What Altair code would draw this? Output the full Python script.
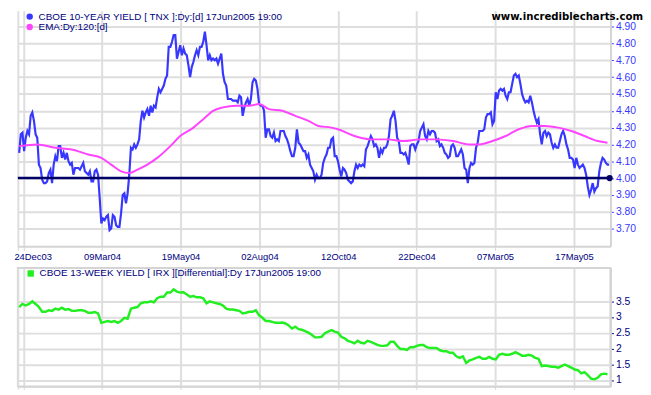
import altair as alt
import pandas as pd

# ---------------- data ----------------
# 10-year yield (TNX), one sample per trading-day step
tnx = [
    4.15, 4.26, 4.27, 4.16, 4.24, 4.28, 4.26, 4.37, 4.39, 4.34,
    4.26, 4.24, 4.08, 4.06, 3.99, 3.97, 3.97, 3.98, 4.03, 4.05,
    3.97, 4.08, 4.13, 4.10, 4.19, 4.19, 4.12, 4.15, 4.11, 4.15,
    4.10, 4.08, 4.09, 4.02, 4.06, 4.06, 4.06, 4.05, 4.07, 4.09,
    4.04, 4.03, 4.02, 4.04, 3.98, 3.98, 4.04, 4.05, 4.02, 3.88,
    3.73, 3.76, 3.75, 3.77, 3.78, 3.69, 3.70, 3.78, 3.77, 3.72,
    3.71, 3.71, 3.79, 3.90, 3.91, 3.85, 3.91, 4.02, 4.18, 4.17,
    4.20, 4.18, 4.20, 4.23, 4.34, 4.40, 4.36, 4.39, 4.41, 4.37,
    4.43, 4.39, 4.43, 4.42, 4.48, 4.53, 4.51, 4.53, 4.55, 4.59,
    4.61, 4.78, 4.78, 4.81, 4.85, 4.85, 4.71, 4.75, 4.79, 4.73,
    4.77, 4.74, 4.73, 4.67, 4.60, 4.66, 4.69, 4.73, 4.76, 4.73,
    4.78, 4.78, 4.81, 4.87, 4.79, 4.70, 4.73, 4.70, 4.71, 4.70,
    4.71, 4.68, 4.71, 4.74, 4.62, 4.57, 4.55, 4.47, 4.47, 4.47,
    4.46, 4.46, 4.46, 4.45, 4.49, 4.48, 4.37, 4.42, 4.45, 4.47,
    4.43, 4.47, 4.57, 4.59, 4.58, 4.53, 4.44, 4.43, 4.43, 4.40,
    4.24, 4.29, 4.29, 4.25, 4.24, 4.27, 4.22, 4.23, 4.22, 4.28,
    4.28, 4.28, 4.25, 4.23, 4.20, 4.16, 4.13, 4.13, 4.18, 4.29,
    4.21, 4.20, 4.18, 4.16, 4.16, 4.12, 4.14, 4.08, 4.06, 4.04,
    3.99, 4.02, 4.00, 4.00, 4.02, 4.09, 4.12, 4.14, 4.18, 4.18,
    4.23,
    4.24, 4.13, 4.13, 4.10, 4.05, 4.01, 4.06, 4.05, 4.03, 3.99,
    3.98, 3.97, 3.98, 4.04, 4.08, 4.06, 4.08, 4.07, 4.08, 4.07,
    4.17, 4.19, 4.22, 4.25, 4.23, 4.19, 4.20, 4.18, 4.12, 4.17,
    4.15, 4.18, 4.18, 4.20, 4.25, 4.35, 4.37, 4.40, 4.34, 4.24,
    4.22, 4.15, 4.15, 4.14, 4.15, 4.12, 4.08, 4.19, 4.20, 4.20,
    4.17, 4.20, 4.22, 4.28, 4.30, 4.32, 4.25, 4.23, 4.28, 4.26,
    4.28, 4.28, 4.27, 4.22, 4.23, 4.19, 4.20, 4.18, 4.15, 4.14,
    4.12, 4.13, 4.19, 4.20, 4.18, 4.13, 4.13, 4.15, 4.17, 4.14,
    4.06, 4.05, 3.97, 4.06, 4.09, 4.08, 4.09, 4.18, 4.21, 4.28,
    4.28, 4.28, 4.29, 4.36, 4.38, 4.38, 4.39, 4.32, 4.34, 4.51,
    4.47, 4.52, 4.53, 4.52, 4.53, 4.49, 4.47, 4.51, 4.51, 4.56,
    4.61, 4.62, 4.60, 4.61, 4.56, 4.50, 4.47, 4.45, 4.46, 4.45,
    4.49, 4.45, 4.40, 4.36, 4.33, 4.35, 4.26, 4.20, 4.27, 4.28,
    4.25, 4.27, 4.26, 4.21, 4.18, 4.20, 4.18, 4.18, 4.22, 4.26,
    4.28, 4.25, 4.20, 4.17, 4.12, 4.12, 4.11, 4.06, 4.12, 4.08,
    4.06, 4.07, 4.08, 4.06, 4.02, 3.95, 3.90, 3.93, 3.97, 3.92,
    3.94, 3.95, 4.04, 4.09, 4.12, 4.11, 4.09, 4.08, 4.08,
]

# 120-day EMA (sampled points along the pink curve)
ema_days = [0, 11, 22, 32, 42, 50, 56, 62, 67, 72, 78, 84, 92, 98, 106, 112,
            118, 124, 132, 140, 146, 152, 160, 168, 176, 182, 190, 194, 204,
            214, 224, 234, 244, 254, 264, 274, 280, 288, 296, 304, 312, 320,
            328, 336, 344, 352, 358]
ema_vals = [4.19, 4.20, 4.18, 4.17, 4.14, 4.12, 4.08, 4.04, 4.03, 4.05, 4.08,
            4.12, 4.19, 4.25, 4.30, 4.35, 4.40, 4.42, 4.43, 4.43, 4.44, 4.41,
            4.40, 4.37, 4.34, 4.31, 4.30, 4.29, 4.25, 4.23, 4.23, 4.22, 4.23,
            4.23, 4.22, 4.20, 4.20, 4.22, 4.25, 4.29, 4.31, 4.31, 4.30, 4.28,
            4.25, 4.22, 4.21]

# 13-week yield (IRX), one sample every two steps
irx = [
    3.31, 3.41, 3.36, 3.41, 3.49, 3.41, 3.31, 3.16, 3.16, 3.21,
    3.19, 3.26, 3.23, 3.29, 3.23, 3.25, 3.19, 3.19, 3.21, 3.21,
    3.19, 3.13, 3.13, 3.15, 3.11, 2.81, 2.84, 2.87, 2.84, 2.87,
    2.81, 2.87, 2.97, 2.94, 3.26, 3.29, 3.31, 3.43, 3.46, 3.46,
    3.49, 3.46, 3.59, 3.64, 3.64, 3.77, 3.77, 3.87, 3.80, 3.77,
    3.78, 3.71, 3.64, 3.66, 3.62, 3.62, 3.59, 3.43, 3.49, 3.46,
    3.43, 3.41, 3.36, 3.26, 3.23, 3.23, 3.21, 3.19, 3.11, 3.13,
    3.16, 3.16, 3.21, 3.05, 2.97, 2.87, 2.87, 2.84, 2.81, 2.81,
    2.82, 2.79, 2.73, 2.63, 2.69, 2.61, 2.59, 2.55, 2.50, 2.43,
    2.35, 2.35,
    2.37, 2.48, 2.53, 2.58, 2.53, 2.50, 2.37, 2.32, 2.24, 2.21,
    2.16, 2.24, 2.18, 2.16, 2.24, 2.21, 2.16, 2.11, 2.08, 2.08,
    2.10, 2.21, 2.21, 2.08, 1.98, 1.98, 1.95, 2.04, 2.04, 2.08,
    2.11, 2.11, 2.04, 2.01, 2.01, 2.01, 1.94, 1.91, 1.91, 1.86,
    1.86, 1.75, 1.70, 1.75, 1.54, 1.62, 1.65, 1.70, 1.73, 1.67,
    1.67, 1.73, 1.67, 1.65, 1.80, 1.83, 1.80, 1.80, 1.83, 1.88,
    1.83, 1.77, 1.77, 1.80, 1.77, 1.70, 1.67, 1.44, 1.46, 1.44,
    1.42, 1.42, 1.39, 1.44, 1.49, 1.44, 1.39, 1.33, 1.31, 1.21,
    1.25, 1.15, 1.04, 1.02, 1.07, 1.18, 1.20, 1.18,
]

tick_days = [2.8, 50.4, 98.2, 146.2, 194.2, 241.8, 289.6, 337.6]
tick_labels = ["24Dec03", "09Mar04", "19May04", "02Aug04", "12Oct04",
               "22Dec04", "07Mar05", "17May05"]
top_ticks = [3.7, 3.8, 3.9, 4.0, 4.1, 4.2, 4.3, 4.4, 4.5, 4.6, 4.7, 4.8, 4.9]
bottom_ticks = [1, 1.5, 2, 2.5, 3, 3.5]
level = [4.00]
level_start = [-0.8]
level_end = [359.3]

legend_top = ["CBOE 10-YEAR YIELD  [ TNX ]:Dy:[d]  17Jun2005 19:00",
              "EMA:Dy:120:[d]"]
legend_top_colors = ["#3737FF", "#FF44FF"]
legend_bottom = ["CBOE 13-WEEK YIELD [ IRX ][Differential]:Dy  17Jun2005 19:00"]
legend_bottom_colors = ["#22EE22"]
site = ["www.incrediblecharts.com"]

# ---------------- frames ----------------
tnx_df = pd.DataFrame({"day": list(range(len(tnx))), "value": tnx})
ema_df = pd.DataFrame({"day": ema_days, "value": ema_vals})
irx_df = pd.DataFrame({"day": [2 * i for i in range(len(irx))], "value": irx})
level_df = pd.DataFrame({"day": level_start, "day2": level_end, "value": level})

X_DOMAIN = [-0.8, 359.8]
W = 601
H_TOP = 239
H_BOT = 120
FONT = "Liberation Sans"
NAVY = "#000080"
GRID = "#DEDEDE"
BORDER = "#D4D4D4"
BLUE = "#3737FF"

expr = "''"
for d, lab in reversed(list(zip(tick_days, tick_labels))):
    expr = f"abs(datum.value - {d}) < 1 ? '{lab}' : ({expr})"

first_test = f"datum.value < {tick_days[0] + 1}"

x_top = alt.X(
    "day:Q",
    scale=alt.Scale(domain=X_DOMAIN, nice=False, zero=False),
    axis=alt.Axis(values=[X_DOMAIN[0]] + tick_days, tickCount=50, labelExpr=expr, title=None,
                  grid=True, gridColor=GRID, gridWidth=2,
                  domainColor=BORDER, domainWidth=2,
                  tickColor=BORDER, tickSize=4, tickWidth=1,
                  labelColor=NAVY, labelFont=FONT, labelFontSize=9.5,
                  labelPadding=1, labelFlush=False, labelOverlap=False,
                  labelAlign=alt.condition(first_test, alt.value("left"), alt.value("center")),
                  labelOffset=alt.condition(first_test, alt.value(-10), alt.value(0))),
)
y_top = alt.Y(
    "value:Q",
    scale=alt.Scale(domain=[3.594, 4.995], nice=False, zero=False),
    axis=alt.Axis(orient="right", values=top_ticks, tickCount=50, format=".2f", title=None,
                  grid=True, gridColor=GRID, gridWidth=2,
                  domainColor=BORDER, domainWidth=2,
                  tickColor=BLUE, tickSize=3, labelOverlap=False,
                  labelColor=BLUE, labelFont=FONT, labelFontSize=10.5,
                  labelPadding=2),
)

tnx_line = alt.Chart(tnx_df).mark_line(color=BLUE, strokeWidth=2.2).encode(x=x_top, y=y_top)
ema_line = alt.Chart(ema_df).mark_line(color="#FF44FF", strokeWidth=2, interpolate="monotone").encode(
    x="day:Q", y="value:Q")
lvl_rule = alt.Chart(level_df).mark_rule(color="#000066", strokeWidth=2.5).encode(
    x="day:Q", x2="day2:Q", y="value:Q")
lvl_dot = alt.Chart(level_df).mark_point(filled=True, shape="circle", size=40,
                                         color="#000066", opacity=1).encode(
    x="day2:Q", y="value:Q")

leg_top_layers = []
for i, (lab, col) in enumerate(zip(legend_top, legend_top_colors)):
    df = pd.DataFrame({"label": [lab]})
    yy = 6 + i * 10.5
    leg_top_layers.append(
        alt.Chart(df).mark_point(filled=True, shape="circle", size=42, color=col, opacity=1)
        .encode(x=alt.value(12), y=alt.value(yy)))
    leg_top_layers.append(
        alt.Chart(df).mark_text(align="left", baseline="middle", font=FONT, fontSize=10,
                                color=NAVY)
        .encode(text="label:N", x=alt.value(21), y=alt.value(yy)))

site_text = alt.Chart(pd.DataFrame({"label": site})).mark_text(
    align="right", baseline="middle", font="DejaVu Sans", fontSize=10.3,
    fontWeight="bold", color="black").encode(
    text="label:N", x=alt.value(634), y=alt.value(6))

top = alt.layer(tnx_line, ema_line, lvl_rule, lvl_dot, *leg_top_layers, site_text).properties(
    width=W, height=H_TOP)

# ---------------- bottom panel ----------------
x_bot = alt.X(
    "day:Q",
    scale=alt.Scale(domain=X_DOMAIN, nice=False, zero=False),
    axis=alt.Axis(values=[X_DOMAIN[0]] + tick_days, tickCount=50, labels=False, title=None,
                  grid=True, gridColor=GRID, gridWidth=2,
                  domainColor=BORDER, domainWidth=2,
                  tickColor=BORDER, tickSize=3),
)
y_bot = alt.Y(
    "value:Q",
    scale=alt.Scale(domain=[0.797, 4.547], nice=False, zero=False),
    axis=alt.Axis(orient="right", values=bottom_ticks, tickCount=50, format="~g", title=None,
                  grid=True, gridColor=GRID, gridWidth=2,
                  domainColor=BORDER, domainWidth=2, labelOverlap=False,
                  tickColor=NAVY, tickSize=3,
                  labelColor=NAVY, labelFont=FONT, labelFontSize=10.5,
                  labelPadding=2),
)
irx_line = alt.Chart(irx_df).mark_line(color="#22EE22", strokeWidth=2.5).encode(x=x_bot, y=y_bot)

leg_bot_layers = []
for lab, col in zip(legend_bottom, legend_bottom_colors):
    df = pd.DataFrame({"label": [lab]})
    leg_bot_layers.append(
        alt.Chart(df).mark_square(size=42, color=col, opacity=1)
        .encode(x=alt.value(13), y=alt.value(5.5)))
    leg_bot_layers.append(
        alt.Chart(df).mark_text(align="left", baseline="middle", font=FONT, fontSize=10,
                                color=NAVY)
        .encode(text="label:N", x=alt.value(22), y=alt.value(5.5)))

bottom = alt.layer(irx_line, *leg_bot_layers).properties(
    width=W, height=H_BOT, view=alt.ViewBackground(stroke=BORDER, strokeWidth=2))

chart = alt.vconcat(top, bottom, spacing=6).properties(
    padding={"left": 0, "top": 0, "right": 0, "bottom": 0},
    background="white",
).configure_view(stroke=None)

chart.save("out.html", embed_options={"renderer": "svg", "actions": False})
